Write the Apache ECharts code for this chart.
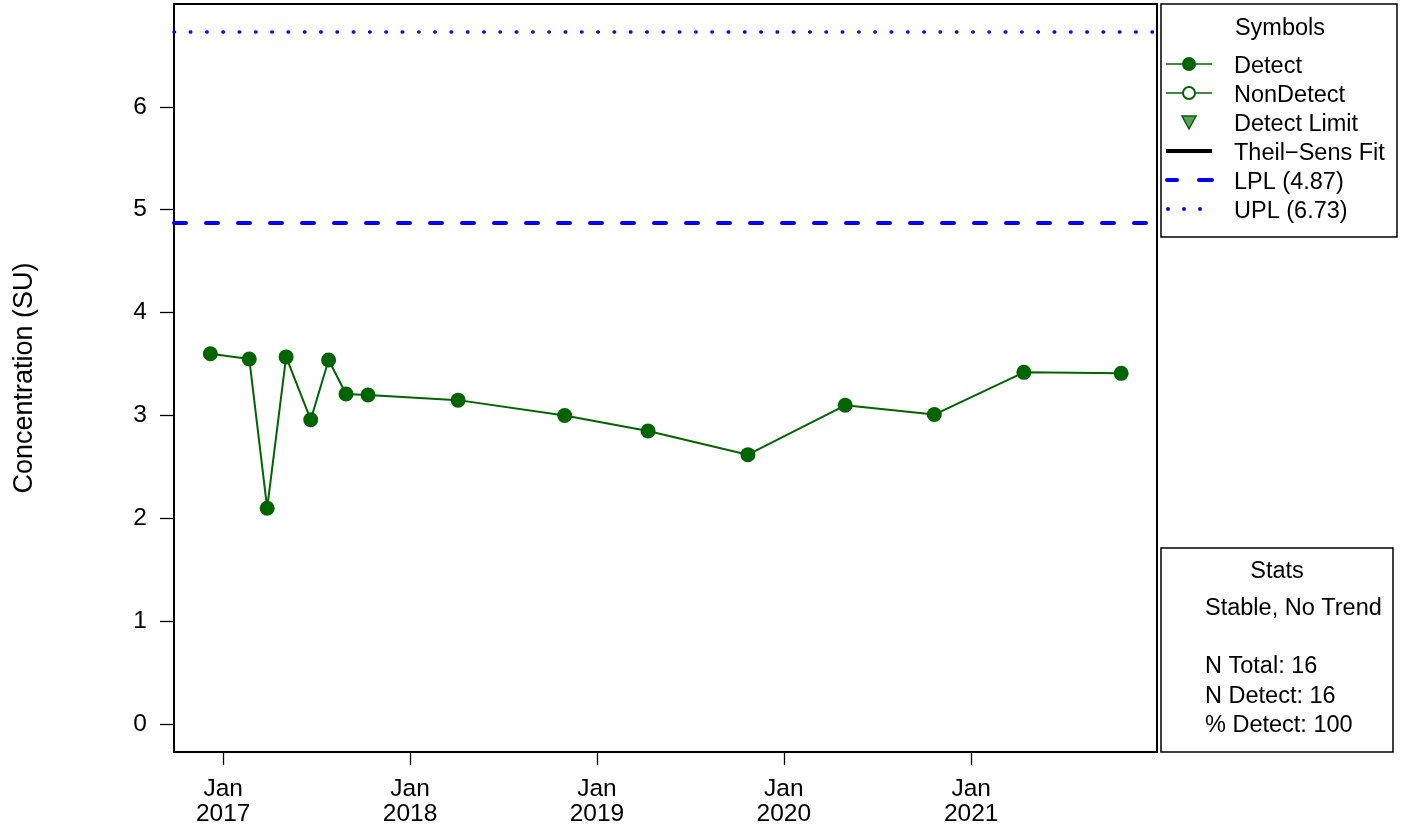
<!DOCTYPE html>
<html>
<head>
<meta charset="utf-8">
<script src="https://cdn.jsdelivr.net/npm/echarts@6/dist/echarts.min.js"></script>
<style>
  html, body { margin: 0; padding: 0; background: #fff; }
  #chart { width: 1403px; height: 827px; }
</style>
</head>
<body>
<div id="chart"></div>
<script>
// Sample dates and measured concentrations (SU)
const sampleDates = [
  '2016-12-07', '2017-02-21', '2017-03-28', '2017-05-04', '2017-06-21',
  '2017-07-26', '2017-08-29', '2017-10-11', '2018-04-05', '2018-10-30',
  '2019-04-11', '2019-10-23', '2020-04-30', '2020-10-21', '2021-04-14',
  '2021-10-21'
];
const concentrations = [
  3.60, 3.55, 2.10, 3.57, 2.96, 3.54, 3.21, 3.20, 3.15, 3.00,
  2.85, 2.62, 3.10, 3.01, 3.42, 3.41
];

// Prediction limits
const lpl = 4.87;
const upl = 6.73;

// Axis ticks
const yearTicks = ['2017-01-01', '2018-01-01', '2019-01-01', '2020-01-01', '2021-01-01'];
const yTicks = [0, 1, 2, 3, 4, 5, 6];
const xRange = ['2016-09-27', '2021-12-30'];
const yRange = [-0.269, 6.999];

// Stats panel text
const statsLines = ['Stable, No Trend', '', 'N Total: 16', 'N Detect: 16', '% Detect: 100'];

const FONT = 'Liberation Sans, Arial, sans-serif';
const FS = 23.5;      // legend / stats text
const FS_AXIS = 24.5; // tick labels
const FS_NAME = 27;   // axis title
const GREEN = '#006400';
const BLUE = '#0000ff';

const toTs = d => new Date(d + 'T00:00:00Z').getTime();
const tickTs = yearTicks.map(toTs);

const chart = echarts.init(document.getElementById('chart'), null, { renderer: 'canvas' });

// Legend panel layout
const legX = 1161, legY = 4, legW = 236, legH = 233;
const symCx = 1189, txtX = 1234;
const rowY = [64, 93, 122, 151, 180, 209];
const TXT_DY = 2.5;
const legendLabels = ['Detect', 'NonDetect', 'Detect Limit', 'Theil\u2212Sens Fit', 'LPL (' + lpl.toFixed(2) + ')', 'UPL (' + upl.toFixed(2) + ')'];

const textStyle = (x, y, t, align) => ({
  type: 'text', x: x, y: y + TXT_DY,
  style: { text: t, fill: '#000', font: FS + 'px ' + FONT, textAlign: align || 'left', textVerticalAlign: 'middle' }
});

const graphics = [
  { type: 'rect', shape: { x: legX, y: legY, width: legW, height: legH }, style: { fill: 'none', stroke: '#000', lineWidth: 1.5 } },
  textStyle(1280, 26, 'Symbols', 'center'),
  // Detect
  { type: 'line', shape: { x1: 1166, y1: rowY[0], x2: 1212, y2: rowY[0] }, style: { stroke: GREEN, lineWidth: 1.5 } },
  { type: 'circle', shape: { cx: symCx, cy: rowY[0], r: 7 }, style: { fill: GREEN } },
  // NonDetect
  { type: 'line', shape: { x1: 1166, y1: rowY[1], x2: 1212, y2: rowY[1] }, style: { stroke: GREEN, lineWidth: 1.5 } },
  { type: 'circle', shape: { cx: symCx, cy: rowY[1], r: 6 }, style: { fill: '#fff', stroke: GREEN, lineWidth: 2 } },
  // Detect Limit
  { type: 'polygon', shape: { points: [[symCx - 7, rowY[2] - 6], [symCx + 7, rowY[2] - 6], [symCx, rowY[2] + 7]] }, style: { fill: '#5a9e5a', stroke: GREEN, lineWidth: 1.5 } },
  // Theil-Sens
  { type: 'line', shape: { x1: 1166, y1: rowY[3], x2: 1212, y2: rowY[3] }, style: { stroke: '#000', lineWidth: 4 } },
  // LPL
  { type: 'line', shape: { x1: 1167, y1: rowY[4], x2: 1177, y2: rowY[4] }, style: { stroke: BLUE, lineWidth: 4, lineCap: 'round' } },
  { type: 'line', shape: { x1: 1199, y1: rowY[4], x2: 1212, y2: rowY[4] }, style: { stroke: BLUE, lineWidth: 4, lineCap: 'round' } },
  // UPL
  { type: 'circle', shape: { cx: 1168, cy: rowY[5], r: 2 }, style: { fill: BLUE } },
  { type: 'circle', shape: { cx: 1184, cy: rowY[5], r: 2 }, style: { fill: BLUE } },
  { type: 'circle', shape: { cx: 1200, cy: rowY[5], r: 2 }, style: { fill: BLUE } },
  // Stats panel
  { type: 'rect', shape: { x: 1161, y: 548, width: 232, height: 204 }, style: { fill: 'none', stroke: '#000', lineWidth: 1.5 } },
  textStyle(1277, 569, 'Stats', 'center')
];
legendLabels.forEach((t, i) => graphics.push(textStyle(txtX, rowY[i], t)));
const statsY = [606, 635, 664, 694, 723];
statsLines.forEach((t, i) => { if (t) graphics.push(textStyle(1205, statsY[i], t)); });

const option = {
  backgroundColor: '#fff',
  animation: false,
  textStyle: { fontFamily: FONT },
  grid: {
    left: 174, right: 246, top: 4, bottom: 75,
    containLabel: false, outerBoundsMode: 'none',
    show: true, borderColor: '#000', borderWidth: 2, backgroundColor: 'transparent'
  },
  xAxis: {
    type: 'value',
    min: toTs(xRange[0]), max: toTs(xRange[1]),
    axisLine: { show: true, onZero: false, lineStyle: { color: '#000', width: 2 } },
    axisTick: { show: true, length: 13, inside: false, customValues: tickTs, lineStyle: { color: '#000', width: 1.3 } },
    axisLabel: {
      customValues: tickTs,
      color: '#000', fontSize: FS_AXIS, fontFamily: FONT, lineHeight: 25, margin: 25,
      formatter: v => 'Jan\n' + new Date(v).getUTCFullYear()
    },
    splitLine: { show: false }
  },
  yAxis: {
    type: 'value',
    min: yRange[0], max: yRange[1],
    name: 'Concentration (SU)',
    nameLocation: 'middle', nameGap: 136, nameRotate: 90,
    nameTextStyle: { color: '#000', fontSize: FS_NAME, fontFamily: FONT },
    axisLine: { show: true, onZero: false, lineStyle: { color: '#000', width: 2 } },
    axisTick: { show: true, length: 14, customValues: yTicks, lineStyle: { color: '#000', width: 1.3 } },
    axisLabel: { customValues: yTicks, color: '#000', fontSize: FS_AXIS, fontFamily: FONT, margin: 27, padding: [9, 0, 0, 0] },
    splitLine: { show: false }
  },
  series: [
    {
      name: 'Detect',
      type: 'line',
      data: sampleDates.map((d, i) => [toTs(d), concentrations[i]]),
      symbol: 'circle', symbolSize: 15,
      itemStyle: { color: GREEN },
      lineStyle: { color: GREEN, width: 2 },
      z: 5,
      markLine: {
        silent: true, symbol: 'none', label: { show: false },
        data: [
          { yAxis: lpl, lineStyle: { color: BLUE, width: 4, type: [12, 20], cap: 'round' } },
          { yAxis: upl, lineStyle: { color: BLUE, width: 3.5, type: [0.5, 15.8], cap: 'round' } }
        ]
      }
    }
  ],
  graphic: graphics
};

chart.setOption(option);
</script>
</body>
</html>
